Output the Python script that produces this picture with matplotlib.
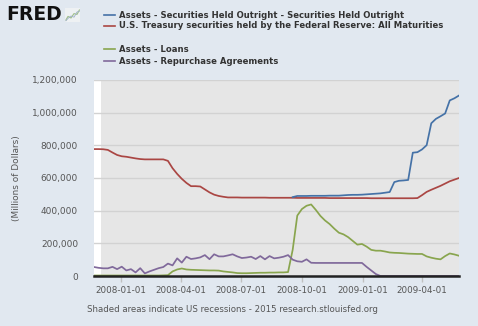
import numpy as np
import pandas as pd
import matplotlib
matplotlib.use("Agg")
import matplotlib.pyplot as plt

# weekly observation dates (Wednesdays)
dates = pd.date_range("2007-11-21", "2009-05-27", freq="7D")

# values in thousands of millions of dollars
treasury = [777, 777, 776, 772, 756, 741, 733, 730, 725, 720, 716, 714, 714, 714, 714, 714,
            705, 660, 625, 595, 570, 550, 550, 548, 530, 512, 498, 490, 485, 481,
            481, 481, 480, 480, 480, 480, 480, 480, 479, 479, 479, 479, 479, 479, 478, 478,
            478, 478, 478, 478, 478, 477, 477, 477, 477, 477, 477, 477, 477, 477, 476, 476,
            476, 476, 476, 476, 476, 476, 476, 476, 477, 495, 515, 528, 540, 552, 566, 580,
            590, 600]

securities_start = 43
securities = [483, 490, 490, 490, 491, 491, 491, 491, 492, 492, 492, 494, 496, 497, 497, 498,
              500, 502, 504, 506, 510, 514, 575, 583, 585, 588, 755, 758, 775, 801, 935, 962,
              978, 995, 1075, 1088, 1105]

loans = [3, 3, 3, 3, 3, 3, 3, 3, 3, 3, 3, 3, 3, 3, 3, 4, 5, 28, 40, 46, 40, 38, 37, 36, 35,
         34, 34, 33, 28, 25, 22, 18, 17, 17, 18, 19, 20, 20, 21, 21, 22, 22, 24, 160, 370,
         410, 430, 438, 405, 368, 340, 318, 290, 265, 255, 238, 215, 192, 196, 180, 160, 155,
         155, 150, 144, 142, 141, 139, 137, 136, 135, 135, 120, 112, 106, 102, 122, 138, 132,
         124]

repos = [55, 50, 47, 47, 56, 42, 57, 34, 42, 22, 48, 16, 28, 38, 48, 55, 76, 65, 108, 82, 118,
         104, 108, 114, 128, 103, 133, 120, 120, 126, 133, 120, 110, 113, 118, 104, 122, 102,
         122, 108, 112, 118, 128, 100, 90, 87, 102, 81, 80, 80, 80, 80, 80, 80, 80, 80, 80, 80,
         80, 56, 34, 12, 0, 0, 0, 0, 0, 0, 0, 0, 0, 0, 0, 0, 0, 0, 0, 0, 0, 0]

series_labels = [
    "Assets - Securities Held Outright - Securities Held Outright",
    "U.S. Treasury securities held by the Federal Reserve: All Maturities",
    "Assets - Loans",
    "Assets - Repurchase Agreements",
]
colors = ["#4572a7", "#aa4643", "#89a54e", "#80699b"]
yticks = [0, 200000, 400000, 600000, 800000, 1000000, 1200000]
xtick_dates = ["2008-01-01", "2008-04-01", "2008-07-01", "2008-10-01", "2009-01-01", "2009-04-01"]
recession = ("2007-12-01", "2009-06-30")

BG = "#e1e8f0"
TXT = "#555555"
fig = plt.figure(figsize=(4.78, 3.26), dpi=100, facecolor=BG)
ax = fig.add_axes([94 / 478, 1 - 276 / 326, (459 - 94) / 478, (276 - 80) / 326])
ax.set_facecolor("white")

ax.axvspan(pd.Timestamp(recession[0]), pd.Timestamp(recession[1]), color="#e6e6e6", lw=0, zorder=0)
for yv in yticks[1:]:
    ax.axhline(yv, color="#d2d2d2", lw=1.0, zorder=1)

k = 1000
LW = 1.25
ax.plot(dates[securities_start:securities_start + len(securities)], np.array(securities) * k,
        color=colors[0], lw=LW, zorder=4)
ax.plot(dates, np.array(treasury) * k, color=colors[1], lw=LW, zorder=3)
ax.plot(dates, np.array(loans) * k, color=colors[2], lw=LW, zorder=3)
ax.plot(dates, np.array(repos) * k, color=colors[3], lw=LW, zorder=3)

ax.set_xlim(dates[0], dates[-1])
ax.set_ylim(0, 1200000)
for s in ["top", "right", "left"]:
    ax.spines[s].set_visible(False)
ax.spines["bottom"].set_color("#222222")
ax.spines["bottom"].set_linewidth(1.8)
ax.spines["bottom"].set_zorder(6)

ax.set_yticks(yticks)
ax.set_yticklabels([f"{v:,}" for v in yticks], color=TXT, fontsize=6.5)
ax.tick_params(axis="y", length=0, pad=11.5)
ax.set_xticks([pd.Timestamp(d) for d in xtick_dates])
ax.set_xticklabels(xtick_dates, color=TXT, fontsize=6.3)
ax.tick_params(axis="x", length=4, color="#c0c0c0", width=1, pad=3)
ax.set_ylabel("(Millions of Dollars)", color=TXT, fontsize=6.4)
ax.yaxis.set_label_coords(-73 / 365, 0.5)

# header: FRED logo and legend
fig.text(6 / 478, 1 - 15 / 326, "FRED", fontsize=13.5, fontweight="bold", color="#111111",
         va="center", ha="left")
icon = fig.add_axes([65 / 478, 1 - 22 / 326, 15 / 478, 14 / 326])
icon.set_xlim(0, 5)
icon.set_ylim(0, 3.5)
icon.add_patch(plt.Rectangle((0, 0), 5, 3.5, facecolor="#eef1f3", edgecolor="none"))
icon.plot([0.3, 1, 2, 3, 4, 4.8], [0.5, 1.4, 1.0, 2.1, 1.9, 3.0], color="#9fbf8a", lw=0.8)
icon.plot([0.3, 1, 2, 3, 4, 4.8], [0.3, 0.9, 1.5, 1.2, 2.5, 2.7], color="#9fb0c8", lw=0.6)
icon.axis("off")

legend_rows = [15, 26, 49, 61]
for lab, col, yy in zip(series_labels, colors, legend_rows):
    fig.add_artist(plt.Line2D([104 / 478, 115 / 478], [1 - yy / 326] * 2, color=col, lw=1.2))
    fig.text(119 / 478, 1 - yy / 326, lab, fontsize=6.15, fontweight="bold", color="#333333",
             va="center", ha="left")

fig.text(87 / 478, 1 - 309 / 326,
         "Shaded areas indicate US recessions - 2015 research.stlouisfed.org",
         fontsize=6.2, color=TXT, va="center", ha="left")

fig.savefig("out.png", dpi=100, facecolor=BG)
